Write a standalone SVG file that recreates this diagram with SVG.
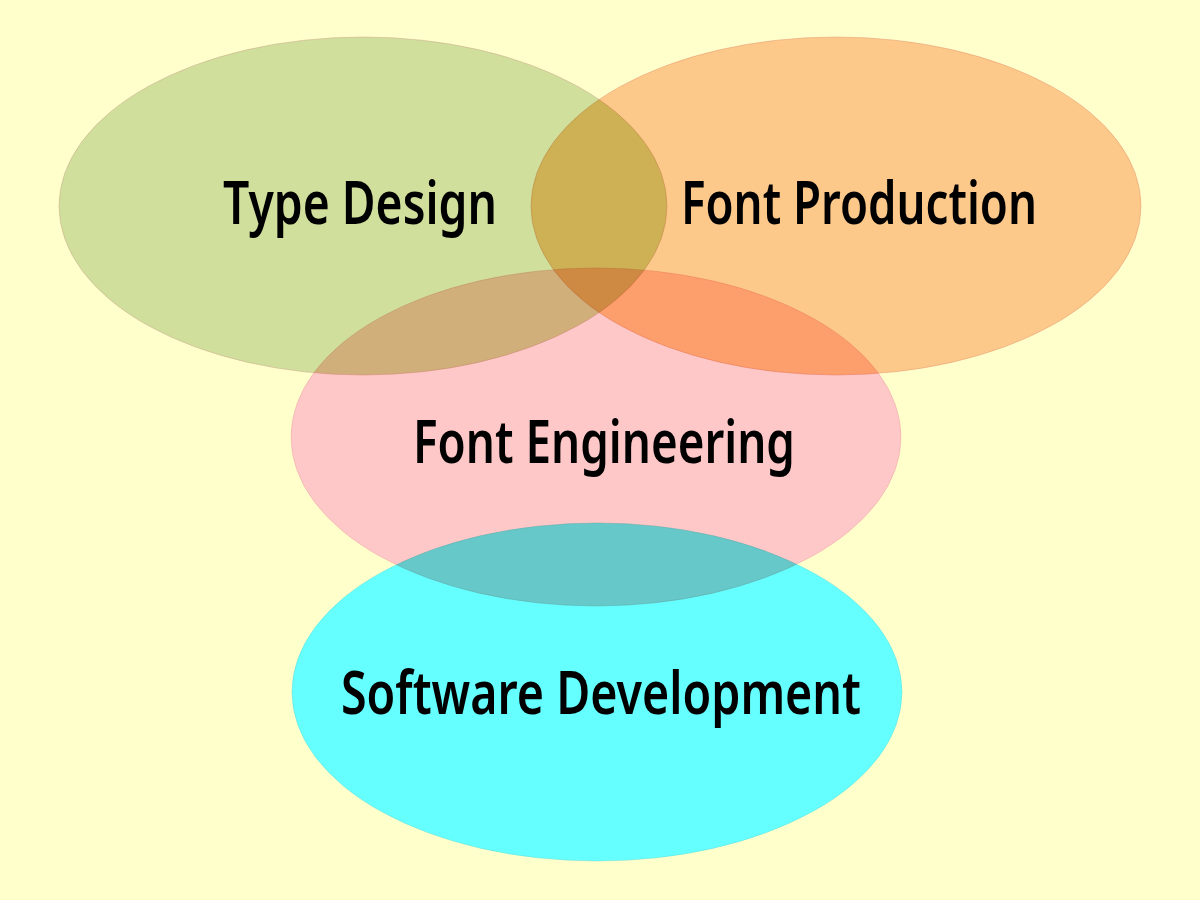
<svg xmlns="http://www.w3.org/2000/svg" width="1200" height="900" viewBox="0 0 1200 900">
<style>
.bg{fill:#FFFFCC}
.e{mix-blend-mode:multiply;stroke-width:1;stroke-opacity:0.45}
.lbl{font-family:"Noto Sans","Open Sans","DejaVu Sans",sans-serif;font-weight:600;font-size:60px;fill:#000}
</style>
<rect class="bg" x="0" y="0" width="1200" height="900"/>
<g id="circles" style="isolation:isolate">
<g id="node-type-design">
<ellipse class="e" cx="363" cy="206" rx="304" ry="169" fill="#D0DF9C" stroke="#C9A08A"/>
</g>
<g id="node-font-production">
<ellipse class="e" cx="836" cy="206" rx="305" ry="169" fill="#FDC98B" stroke="#E0906A"/>
</g>
<g id="node-font-engineering">
<ellipse class="e" cx="596" cy="437" rx="305" ry="169" fill="#FFC8C8" stroke="#E8A0A0"/>
</g>
<g id="node-software-development">
<ellipse class="e" cx="597" cy="692" rx="305" ry="169" fill="#66FFFF" stroke="#60D8D8"/>
</g>
</g>
<g id="connectors"></g>
<g id="labels">
<text class="lbl" x="223" y="224" textLength="274" lengthAdjust="spacingAndGlyphs">Type Design</text>
<text class="lbl" x="681" y="224" textLength="356" lengthAdjust="spacingAndGlyphs">Font Production</text>
<text class="lbl" x="413" y="463" textLength="382" lengthAdjust="spacingAndGlyphs">Font Engineering</text>
<text class="lbl" x="341" y="714" textLength="520" lengthAdjust="spacingAndGlyphs">Software Development</text>
</g>
</svg>
